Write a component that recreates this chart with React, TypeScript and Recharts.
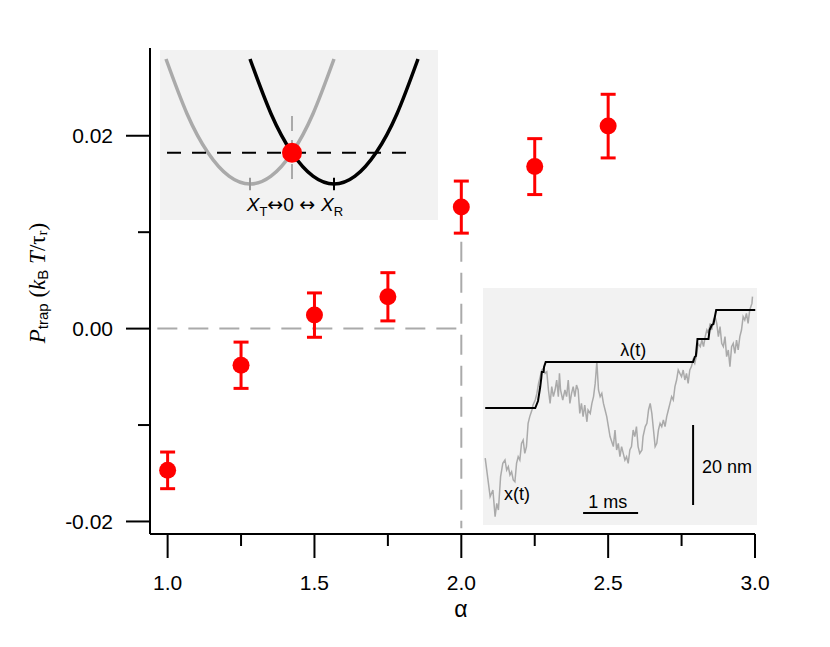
import React from 'react';
import {
  ComposedChart,
  Scatter,
  ErrorBar,
  XAxis,
  YAxis,
  ReferenceLine,
  ReferenceDot,
  LineChart,
  Line,
  Label,
} from 'recharts';

// ---------- main data ----------
const alphaValues = [1.0, 1.25, 1.5, 1.75, 2.0, 2.25, 2.5];
const pTrapValues = [-0.0147, -0.0038, 0.0014, 0.0033, 0.0126, 0.0168, 0.021];
const pTrapErrors = [0.0019, 0.0024, 0.0023, 0.0025, 0.0027, 0.0029, 0.0033];
const xTicks = [1.0, 1.25, 1.5, 1.75, 2.0, 2.25, 2.5, 2.75, 3.0];
const xMajorTicks = [1.0, 1.5, 2.0, 2.5, 3.0];
const yTicks = [-0.02, -0.01, 0, 0.01, 0.02];
const yMajorTicks = [-0.02, 0, 0.02];

// ---------- inset 1 (potentials) ----------
const grayPotX = [-3, -2.5, -2, -1.5, -1, -0.5, 0, 0.5, 1];
const grayPotE = [4, 2.25, 1, 0.25, 0, 0.25, 1, 2.25, 4];
const blackPotX = [-1, -0.5, 0, 0.5, 1, 1.5, 2, 2.5, 3];
const blackPotE = [4, 2.25, 1, 0.25, 0, 0.25, 1, 2.25, 4];

// ---------- inset 2 (trace, ms / nm) ----------
const traceT = [0.04,0.13,0.18,0.22,0.25,0.28,0.32,0.36,0.40,0.43,0.46,0.49,0.52,0.55,0.58,0.61,0.64,0.67,0.70,0.73,0.76,0.79,0.82,0.85,0.89,0.91,0.95,0.98,1.01,1.04,1.07,1.10,1.13,1.16,1.19,1.22,1.25,1.28,1.31,1.34,1.37,1.39,1.41,1.45,1.49,1.52,1.55,1.58,1.61,1.64,1.67,1.70,1.73,1.76,1.79,1.82,1.85,1.89,1.91,1.95,1.98,2.01,2.04,2.07,2.10,2.13,2.16,2.19,2.22,2.25,2.28,2.31,2.37,2.40,2.43,2.46,2.49,2.52,2.55,2.58,2.61,2.64,2.67,2.70,2.73,2.76,2.79,2.82,2.85,2.89,2.91,2.95,2.98,3.01,3.04,3.07,3.10,3.13,3.16,3.19,3.22,3.25,3.28,3.31,3.34,3.37,3.40,3.43,3.46,3.49,3.52,3.55,3.58,3.61,3.64,3.67,3.70,3.73,3.76,3.79,3.82,3.85,3.89,3.91,3.95,3.98,4.01,4.04,4.07,4.10,4.13,4.16,4.19,4.22,4.25,4.28,4.31,4.34,4.37,4.40,4.43,4.46,4.49,4.52,4.55,4.58,4.61,4.64,4.67,4.70,4.73,4.76,4.79,4.82,4.85,4.89,4.90];
const traceX = [16.7,7.1,8.75,2.1,5.4,3.75,12.1,15.4,16.25,13.75,14.6,12.5,13.3,11.25,10.8,15.4,17.1,16.25,20.4,21.25,17.9,19.6,25.4,27.1,28.75,30,31.25,32.9,35.4,37.1,38.75,39.2,37.9,38.3,33.75,30.4,34.6,32.1,33.75,36.25,32.1,37.9,33.75,31.25,33.75,32.1,36.25,30.4,32.9,34.6,32.1,35,33.75,27.9,30.4,27.1,30,25.8,28.75,27.9,30.4,32.1,35.4,40.8,33.75,32.1,32.9,30.4,28.75,27.1,24.6,22.1,19.6,23.75,18.75,20.4,17.1,19.6,17.9,16.25,17.1,15.4,18.75,19.6,23.75,22.1,24.6,19.6,17.9,18.75,22.1,24.6,25.4,28.75,30.4,27.9,23.75,19.6,20.4,23.75,25.4,24.6,26.25,24.6,27.1,28.75,30.4,32.1,31.25,34.6,36.25,38.75,37.9,37.1,38.75,36.25,37.9,35.4,38.75,39.6,41.25,40.4,42.9,45.4,44.6,46.25,44.6,47.1,48.75,47.9,50.4,48.75,51.25,52.1,50.4,47.1,49.6,45.4,44.6,47.1,42.1,43.75,39.6,44.6,45.4,42.9,46.25,43.75,47.1,48.75,52.1,51.25,52.9,50.4,53.75,55.4,57.1];
const lambdaT = [0.04, 0.95, 1.0, 1.04, 1.06, 1.07, 1.1, 1.11, 1.14, 3.82, 3.85, 3.87, 3.9, 4.1, 4.12, 4.16, 4.19, 4.24, 4.95];
const lambdaX = [29.25, 29.25, 31, 34.5, 36.75, 38.25, 38.25, 39.5, 40.75, 40.75, 42, 42.25, 46.5, 46.5, 48.75, 50, 50.25, 53.75, 53.75];

const mainData = alphaValues.map((a, i) => ({ a, p: pTrapValues[i], e: pTrapErrors[i] }));
const grayPot = grayPotX.map((x, i) => ({ x, e: grayPotE[i] }));
const blackPot = blackPotX.map((x, i) => ({ x, e: blackPotE[i] }));
const nTrace = Math.min(traceT.length, traceX.length);
const trace = traceT.slice(0, nTrace).map((t, i) => ({ t, v: traceX[i] }));
const lambda = lambdaT.map((t, i) => ({ t, v: lambdaX[i] }));

const SANS = 'Liberation Sans, Arial, Helvetica, sans-serif';
const SERIF = 'Liberation Serif, Times New Roman, serif';
const ARROW = 'DejaVu Sans, sans-serif';
const TICK_SIZE = 24;
const TICK_MARGIN = 12;
const isMajor = (list: number[], v: number) => list.some((m) => Math.abs(m - v) < 1e-9);

const YTick = (props: any) => {
  const { x, y, payload } = props;
  const axisX = x + TICK_SIZE + TICK_MARGIN;
  const major = isMajor(yMajorTicks, payload.value);
  const len = major ? 24 : 12;
  return (
    <g>
      <line x1={axisX - len} x2={axisX} y1={y} y2={y} stroke="#000" strokeWidth={2} />
      {major && (
        <text x={axisX - 37} y={y} textAnchor="end" dominantBaseline="central" fontSize={21} fontFamily={SANS} fill="#000">
          {Number(payload.value).toFixed(2)}
        </text>
      )}
    </g>
  );
};

const XTick = (props: any) => {
  const { x, y, payload } = props;
  const axisY = y - TICK_SIZE - TICK_MARGIN;
  const major = isMajor(xMajorTicks, payload.value);
  const len = major ? 24 : 12;
  return (
    <g>
      <line x1={x} x2={x} y1={axisY} y2={axisY + len} stroke="#000" strokeWidth={2} />
      {major && (
        <text x={x} y={axisY + 48} textAnchor="middle" dominantBaseline="central" fontSize={21} fontFamily={SANS} fill="#000">
          {Number(payload.value).toFixed(1)}
        </text>
      )}
    </g>
  );
};

const YLabel = (props: any) => {
  const vb = props.viewBox || { x: 0, y: 0, width: 0, height: 0 };
  const cx = vb.x + 37;
  const cy = vb.y + vb.height / 2 - 8;
  return (
    <text x={cx} y={cy} transform={`rotate(-90 ${cx} ${cy})`} textAnchor="middle" dominantBaseline="central" fontSize={23} fontFamily={SERIF} fill="#000">
      <tspan fontStyle="italic">P</tspan>
      <tspan fontFamily={SANS} fontSize={15} dy={5}>trap</tspan>
      <tspan dy={-5}> (</tspan>
      <tspan fontStyle="italic">k</tspan>
      <tspan fontFamily={SANS} fontSize={15} dy={5}>B</tspan>
      <tspan dy={-5} fontStyle="italic"> T</tspan>
      <tspan>/τ</tspan>
      <tspan fontSize={15} dy={5}>r</tspan>
      <tspan dy={-5}>)</tspan>
    </text>
  );
};

const XLabel = (props: any) => {
  const vb = props.viewBox || { x: 0, y: 0, width: 0, height: 0 };
  return (
    <text x={vb.x + 311} y={vb.y + 75} textAnchor="middle" dominantBaseline="central" fontSize={23} fontFamily={SANS} fill="#000">
      α
    </text>
  );
};

const textShape = (content: React.ReactNode, anchor: string = 'middle', size: number = 16, baseline: string = 'central') =>
  (p: any) => (
    <text x={p.cx} y={p.cy} textAnchor={anchor as any} dominantBaseline={baseline as any} fontSize={size} fontFamily={SANS} fill="#000">
      {content}
    </text>
  );

export default function App() {
  return (
    <div style={{ position: 'absolute', left: 0, top: 0, width: 830, height: 647, background: '#fff' }}>
      <div style={{ position: 'absolute', left: 0, top: 0 }}>
        <ComposedChart width={830} height={647} data={mainData} margin={{ top: 48, right: 75, bottom: 0, left: 0 }}>
          <XAxis
            type="number"
            dataKey="a"
            domain={[0.94, 3.0]}
            allowDataOverflow
            ticks={xTicks}
            interval={0}
            height={113}
            tickSize={TICK_SIZE}
            tickMargin={TICK_MARGIN}
            tickLine={false}
            tick={<XTick />}
            axisLine={{ stroke: '#000', strokeWidth: 2 }}
          >
            <Label content={<XLabel />} />
          </XAxis>
          <YAxis
            type="number"
            dataKey="p"
            domain={[-0.0213, 0.0291]}
            allowDataOverflow
            ticks={yTicks}
            interval={0}
            width={150}
            tickSize={TICK_SIZE}
            tickMargin={TICK_MARGIN}
            tickLine={false}
            tick={<YTick />}
            axisLine={{ stroke: '#000', strokeWidth: 2 }}
          >
            <Label content={<YLabel />} />
          </YAxis>
          <ReferenceLine
            segment={[{ x: 0.965, y: 0 }, { x: 2.0, y: 0 }]}
            stroke="#aaaaaa"
            strokeWidth={2}
            strokeDasharray="20 11"
          />
          <ReferenceLine
            segment={[{ x: 2.0, y: 0.009 }, { x: 2.0, y: -0.0207 }]}
            stroke="#aaaaaa"
            strokeWidth={2}
            strokeDasharray="20 11"
          />
          <Scatter
            dataKey="p"
            fill="#ff0000"
            isAnimationActive={false}
            shape={(p: any) => <circle cx={p.cx} cy={p.cy} r={8.5} fill="#ff0000" />}
          >
            <ErrorBar dataKey="e" direction="y" width={7.5} strokeWidth={3} stroke="#ff0000" isAnimationActive={false} />
          </Scatter>
        </ComposedChart>
      </div>

      {/* Inset 1: potentials */}
      <div style={{ position: 'absolute', left: 160, top: 50, width: 278, height: 170, background: '#f2f2f2' }}>
        <LineChart width={278} height={170} margin={{ top: 0, right: 0, bottom: 0, left: 0 }}>
          <XAxis type="number" dataKey="x" domain={[-3.143, 3.476]} allowDataOverflow hide />
          <YAxis type="number" domain={[-1.152, 4.288]} allowDataOverflow hide />
          <ReferenceLine segment={[{ x: 0, y: 2.18 }, { x: 0, y: -0.1 }]} stroke="#aaaaaa" strokeWidth={2} strokeDasharray="15 9" />
          <Line data={grayPot} dataKey="e" type="natural" stroke="#aaaaaa" strokeWidth={3.5} dot={false} isAnimationActive={false} />
          <Line data={blackPot} dataKey="e" type="natural" stroke="#000000" strokeWidth={3.5} dot={false} isAnimationActive={false} />
          <ReferenceLine segment={[{ x: -1, y: -0.2 }, { x: -1, y: 0.2 }]} stroke="#999999" strokeWidth={2} />
          <ReferenceLine segment={[{ x: 1, y: -0.2 }, { x: 1, y: 0.2 }]} stroke="#000" strokeWidth={2} />
          <ReferenceLine segment={[{ x: -2.976, y: 1 }, { x: 2.857, y: 1 }]} stroke="#000" strokeWidth={2} strokeDasharray="14 11" />
          <ReferenceDot x={0} y={1} r={10} fill="#ff0000" stroke="none" />
          <ReferenceLine segment={[{ x: -0.2, y: 1 }, { x: 0.2, y: 1 }]} stroke="#000" strokeWidth={2} />
          <ReferenceLine segment={[{ x: 0, y: 0.76 }, { x: 0, y: 1.24 }]} stroke="#000" strokeWidth={2} />
          <ReferenceDot
            x={0.07}
            y={-0.864}
            r={1}
            shape={textShape(
              [
                <tspan key="a" fontStyle="italic">X</tspan>,
                <tspan key="b" fontSize={13} dy={5}>T</tspan>,
                <tspan key="c" dy={-5} fontFamily={ARROW}>↔</tspan>,
                <tspan key="d">0 </tspan>,
                <tspan key="f" fontFamily={ARROW}>↔ </tspan>,
                <tspan key="g" fontStyle="italic">X</tspan>,
                <tspan key="h" fontSize={13} dy={5}>R</tspan>,
              ],
              'middle',
              19,
              'alphabetic'
            )}
          />
        </LineChart>
      </div>

      {/* Inset 2: trajectory */}
      <div style={{ position: 'absolute', left: 483, top: 288, width: 274, height: 237, background: '#f2f2f2' }}>
        <LineChart width={274} height={237} margin={{ top: 0, right: 0, bottom: 0, left: 0 }}>
          <XAxis type="number" dataKey="t" domain={[0, 4.982]} allowDataOverflow hide />
          <YAxis type="number" domain={[0, 59.25]} allowDataOverflow hide />
          <Line data={trace} dataKey="v" type="linear" stroke="#aaaaaa" strokeWidth={1.5} dot={false} isAnimationActive={false} />
          <Line data={lambda} dataKey="v" type="linear" stroke="#000" strokeWidth={2} dot={false} isAnimationActive={false} />
          <ReferenceLine segment={[{ x: 1.82, y: 3 }, { x: 2.82, y: 3 }]} stroke="#000" strokeWidth={2} />
          <ReferenceLine segment={[{ x: 3.82, y: 5 }, { x: 3.82, y: 25 }]} stroke="#000" strokeWidth={2} />
          <ReferenceDot x={2.73} y={43.75} r={1} shape={textShape('λ(t)', 'middle', 18)} />
          <ReferenceDot x={0.62} y={7.75} r={1} shape={textShape('x(t)', 'middle', 18)} />
          <ReferenceDot x={2.27} y={5.75} r={1} shape={textShape('1 ms', 'middle', 18)} />
          <ReferenceDot x={3.98} y={14.5} r={1} shape={textShape('20 nm', 'start', 18)} />
        </LineChart>
      </div>
    </div>
  );
}
